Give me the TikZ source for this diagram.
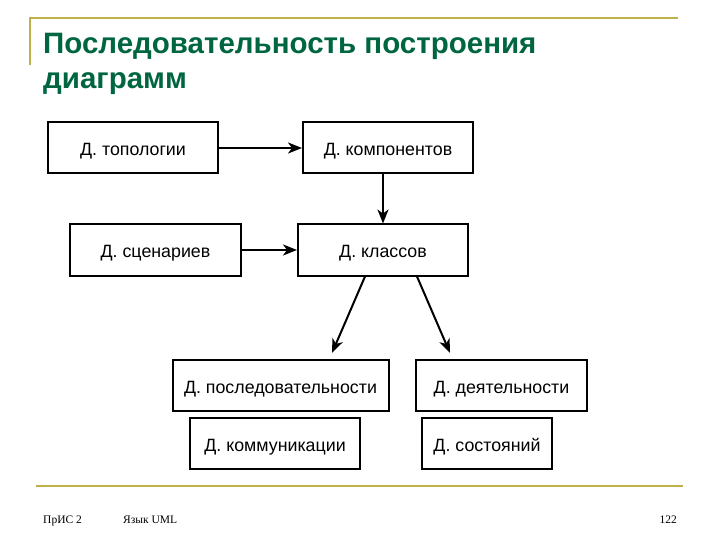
\documentclass[tikz,border=0pt]{standalone}
\usepackage{fontspec}
\setmainfont{Liberation Sans}
\newfontfamily\footfont{Liberation Serif}
\usetikzlibrary{arrows.meta,calc}
\definecolor{titlegreen}{RGB}{0,102,64}
\definecolor{rulegold}{RGB}{192,176,72}
\tikzset{
  box/.style={draw=black, line width=2pt, minimum height=51pt, inner sep=0pt, text height=16pt, text depth=0pt, font=\fontsize{17.8}{20}\selectfont},
  conn/.style={line width=2pt, -{Stealth[length=14pt,width=11pt,inset=4pt]}},
  rulel/.style={draw=rulegold, line width=2pt},
  ttl/.style={anchor=base west, inner sep=0pt, text=titlegreen, font=\bfseries\fontsize{29.5}{35}\selectfont},
  foot/.style={font=\footfont\fontsize{11.5}{13}\selectfont, inner sep=0pt}
}
\begin{document}
\begin{tikzpicture}[x=1pt,y=-1pt]
\useasboundingbox (0,0) rectangle (720,540);
% decorative rules
\draw[rulel] (30,65) -- (30,18) -- (678,18);
\draw[rulel] (36,485.5) -- (683,485.5);
% title
\node[ttl] (title1) at (43,54) {Последовательность построения};
\node[ttl] (title2) at (43,89) {диаграмм};
% boxes
\node[box, minimum width=170pt] (topo) at (133,148) {Д. топологии};
\node[box, minimum width=170pt] (komp) at (388,148) {Д. компонентов};
\node[box, minimum width=171pt] (scen) at (155.5,250) {Д. сценариев};
\node[box, minimum width=170pt] (klass) at (383,250) {Д. классов};
\node[box, minimum width=216pt] (posl) at (280.5,385.5) {Д. последовательности};
\node[box, minimum width=171pt] (deyat) at (501.5,385.5) {Д. деятельности};
\node[box, minimum width=170pt] (komm) at (275,443.5) {Д. коммуникации};
\node[box, minimum width=130pt] (sost) at (487,443.5) {Д. состояний};
% connectors
\draw[conn] (topo) -- (komp);
\draw[conn] (komp.south -| klass) -- (klass.north);
\draw[conn] (scen) -- (klass);
\coordinate (tipA) at (332,353);
\coordinate (tipB) at (450,353);
\draw[conn] ($(klass.south)+(-18,0)$) -- (tipA);
\draw[conn] ($(klass.south)+(34,0)$) -- (tipB);
% footer
\node[foot, anchor=base west] (f1) at (43,523) {ПрИС 2};
\node[foot, anchor=base west] (f2) at (123,523) {Язык UML};
\node[foot, anchor=base east] (f3) at (677,523) {122};
\end{tikzpicture}
\end{document}
